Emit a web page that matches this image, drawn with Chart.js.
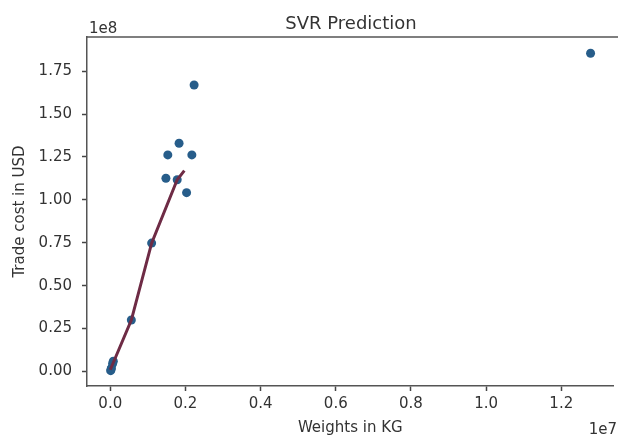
<!DOCTYPE html>
<html>
<head>
<meta charset="utf-8">
<script src="https://cdn.jsdelivr.net/npm/chart.js@4"></script>
<style>
  html, body { margin: 0; padding: 0; background: #fff; }
  #wrap { width: 618px; height: 443px; position: relative; }
</style>
</head>
<body>
<div id="wrap"><canvas id="chart" width="618" height="443"></canvas></div>
<script>
// actual shipments: weight (kg) vs trade cost (USD)
var weightsKg = [12780000, 2230000, 1830000, 1530000, 2170000, 1480000, 2030000, 1780000,
                 1100000, 560000, 30000, 60000, 10000, 80000, 20000];
var tradeCost = [185400000, 166900000, 133000000, 126200000, 126200000, 112600000, 104200000, 111700000,
                 74800000, 30000000, 2000000, 4500000, 500000, 6000000, 1200000];

// SVR predictions along sorted weights
var predWeights = [0, 560000, 1100000, 1780000, 1970000];
var predCost = [1000000, 30000000, 74800000, 111700000, 117000000];

var xTicks = [0, 0.2e7, 0.4e7, 0.6e7, 0.8e7, 1.0e7, 1.2e7];
var yTicks = [0, 0.25e8, 0.5e8, 0.75e8, 1.0e8, 1.25e8, 1.5e8, 1.75e8];

var FONT = "'DejaVu Sans', sans-serif";

function toPoints(xs, ys) {
    var pts = [];
    for (var i = 0; i < xs.length; i++) {
        pts.push({x: xs[i], y: ys[i]});
    }
    return pts;
}

// top spine, title and offset labels like matplotlib
var decor = {
    id: 'decor',
    afterDraw: function(chart) {
        var ctx = chart.ctx;
        var a = chart.chartArea;
        ctx.save();
        ctx.strokeStyle = '#555';
        ctx.lineWidth = 1.5;
        ctx.beginPath();
        ctx.moveTo(a.left, a.top);
        ctx.lineTo(618, a.top);
        ctx.stroke();

        ctx.fillStyle = '#333';
        ctx.font = '18px ' + FONT;
        ctx.textAlign = 'center';
        ctx.textBaseline = 'alphabetic';
        ctx.fillText('SVR Prediction', 351, 29);

        ctx.font = '15px ' + FONT;
        ctx.textAlign = 'left';
        ctx.fillText('1e8', 89, 33);
        ctx.textAlign = 'right';
        ctx.fillText('1e7', 617, 434);
        ctx.restore();
    }
};

var ctx = document.getElementById('chart');
var chart = new Chart(ctx, {
    type: 'scatter',
    data: {
        datasets: [{
            label: 'Actual',
            data: toPoints(weightsKg, tradeCost),
            backgroundColor: '#275d8a',
            borderColor: '#275d8a',
            pointRadius: 4.5,
            borderWidth: 0,
            order: 2
        }, {
            // prediction line sits on top of the points
            label: 'Predicted',
            data: toPoints(predWeights, predCost),
            showLine: true,
            borderColor: '#6e2b45',
            borderWidth: 3,
            pointRadius: 0,
            fill: false,
            order: 1
        }]
    },
    options: {
        responsive: false,
        animation: false,
        layout: { padding: { top: 37, right: 0, left: 0, bottom: 0 } },
        plugins: {
            legend: { display: false },
            tooltip: { enabled: false }
        },
        scales: {
            x: {
                type: 'linear',
                min: -0.062e7,
                max: 1.339e7,
                afterBuildTicks: function(scale) {
                    scale.ticks = xTicks.map(function(v) { return {value: v}; });
                },
                afterFit: function(scale) { scale.height = 57; },
                ticks: {
                    color: '#333',
                    font: { family: FONT, size: 15 },
                    padding: 4,
                    maxRotation: 0,
                    callback: function(v) { return (v / 1e7).toFixed(1); }
                },
                grid: {
                    drawOnChartArea: false,
                    tickLength: 5,
                    tickWidth: 1.5,
                    tickColor: '#444'
                },
                border: { display: true, color: '#555', width: 1.5 },
                title: {
                    display: true,
                    text: 'Weights in KG',
                    color: '#333',
                    font: { family: FONT, size: 15 },
                    padding: { top: 0, bottom: 6 }
                }
            },
            y: {
                type: 'linear',
                min: -0.0845e8,
                max: 1.949e8,
                afterBuildTicks: function(scale) {
                    scale.ticks = yTicks.map(function(v) { return {value: v}; });
                },
                afterFit: function(scale) { scale.width = 87; },
                ticks: {
                    color: '#333',
                    font: { family: FONT, size: 15 },
                    padding: 10,
                    callback: function(v) { return (v / 1e8).toFixed(2); }
                },
                grid: {
                    drawOnChartArea: false,
                    tickLength: 5,
                    tickWidth: 1.5,
                    tickColor: '#444'
                },
                border: { display: true, color: '#555', width: 1.5 },
                title: {
                    display: true,
                    text: 'Trade cost in USD',
                    color: '#333',
                    font: { family: FONT, size: 15 },
                    padding: { top: 11, bottom: 0 }
                }
            }
        }
    },
    plugins: [decor]
});
</script>
</body>
</html>
